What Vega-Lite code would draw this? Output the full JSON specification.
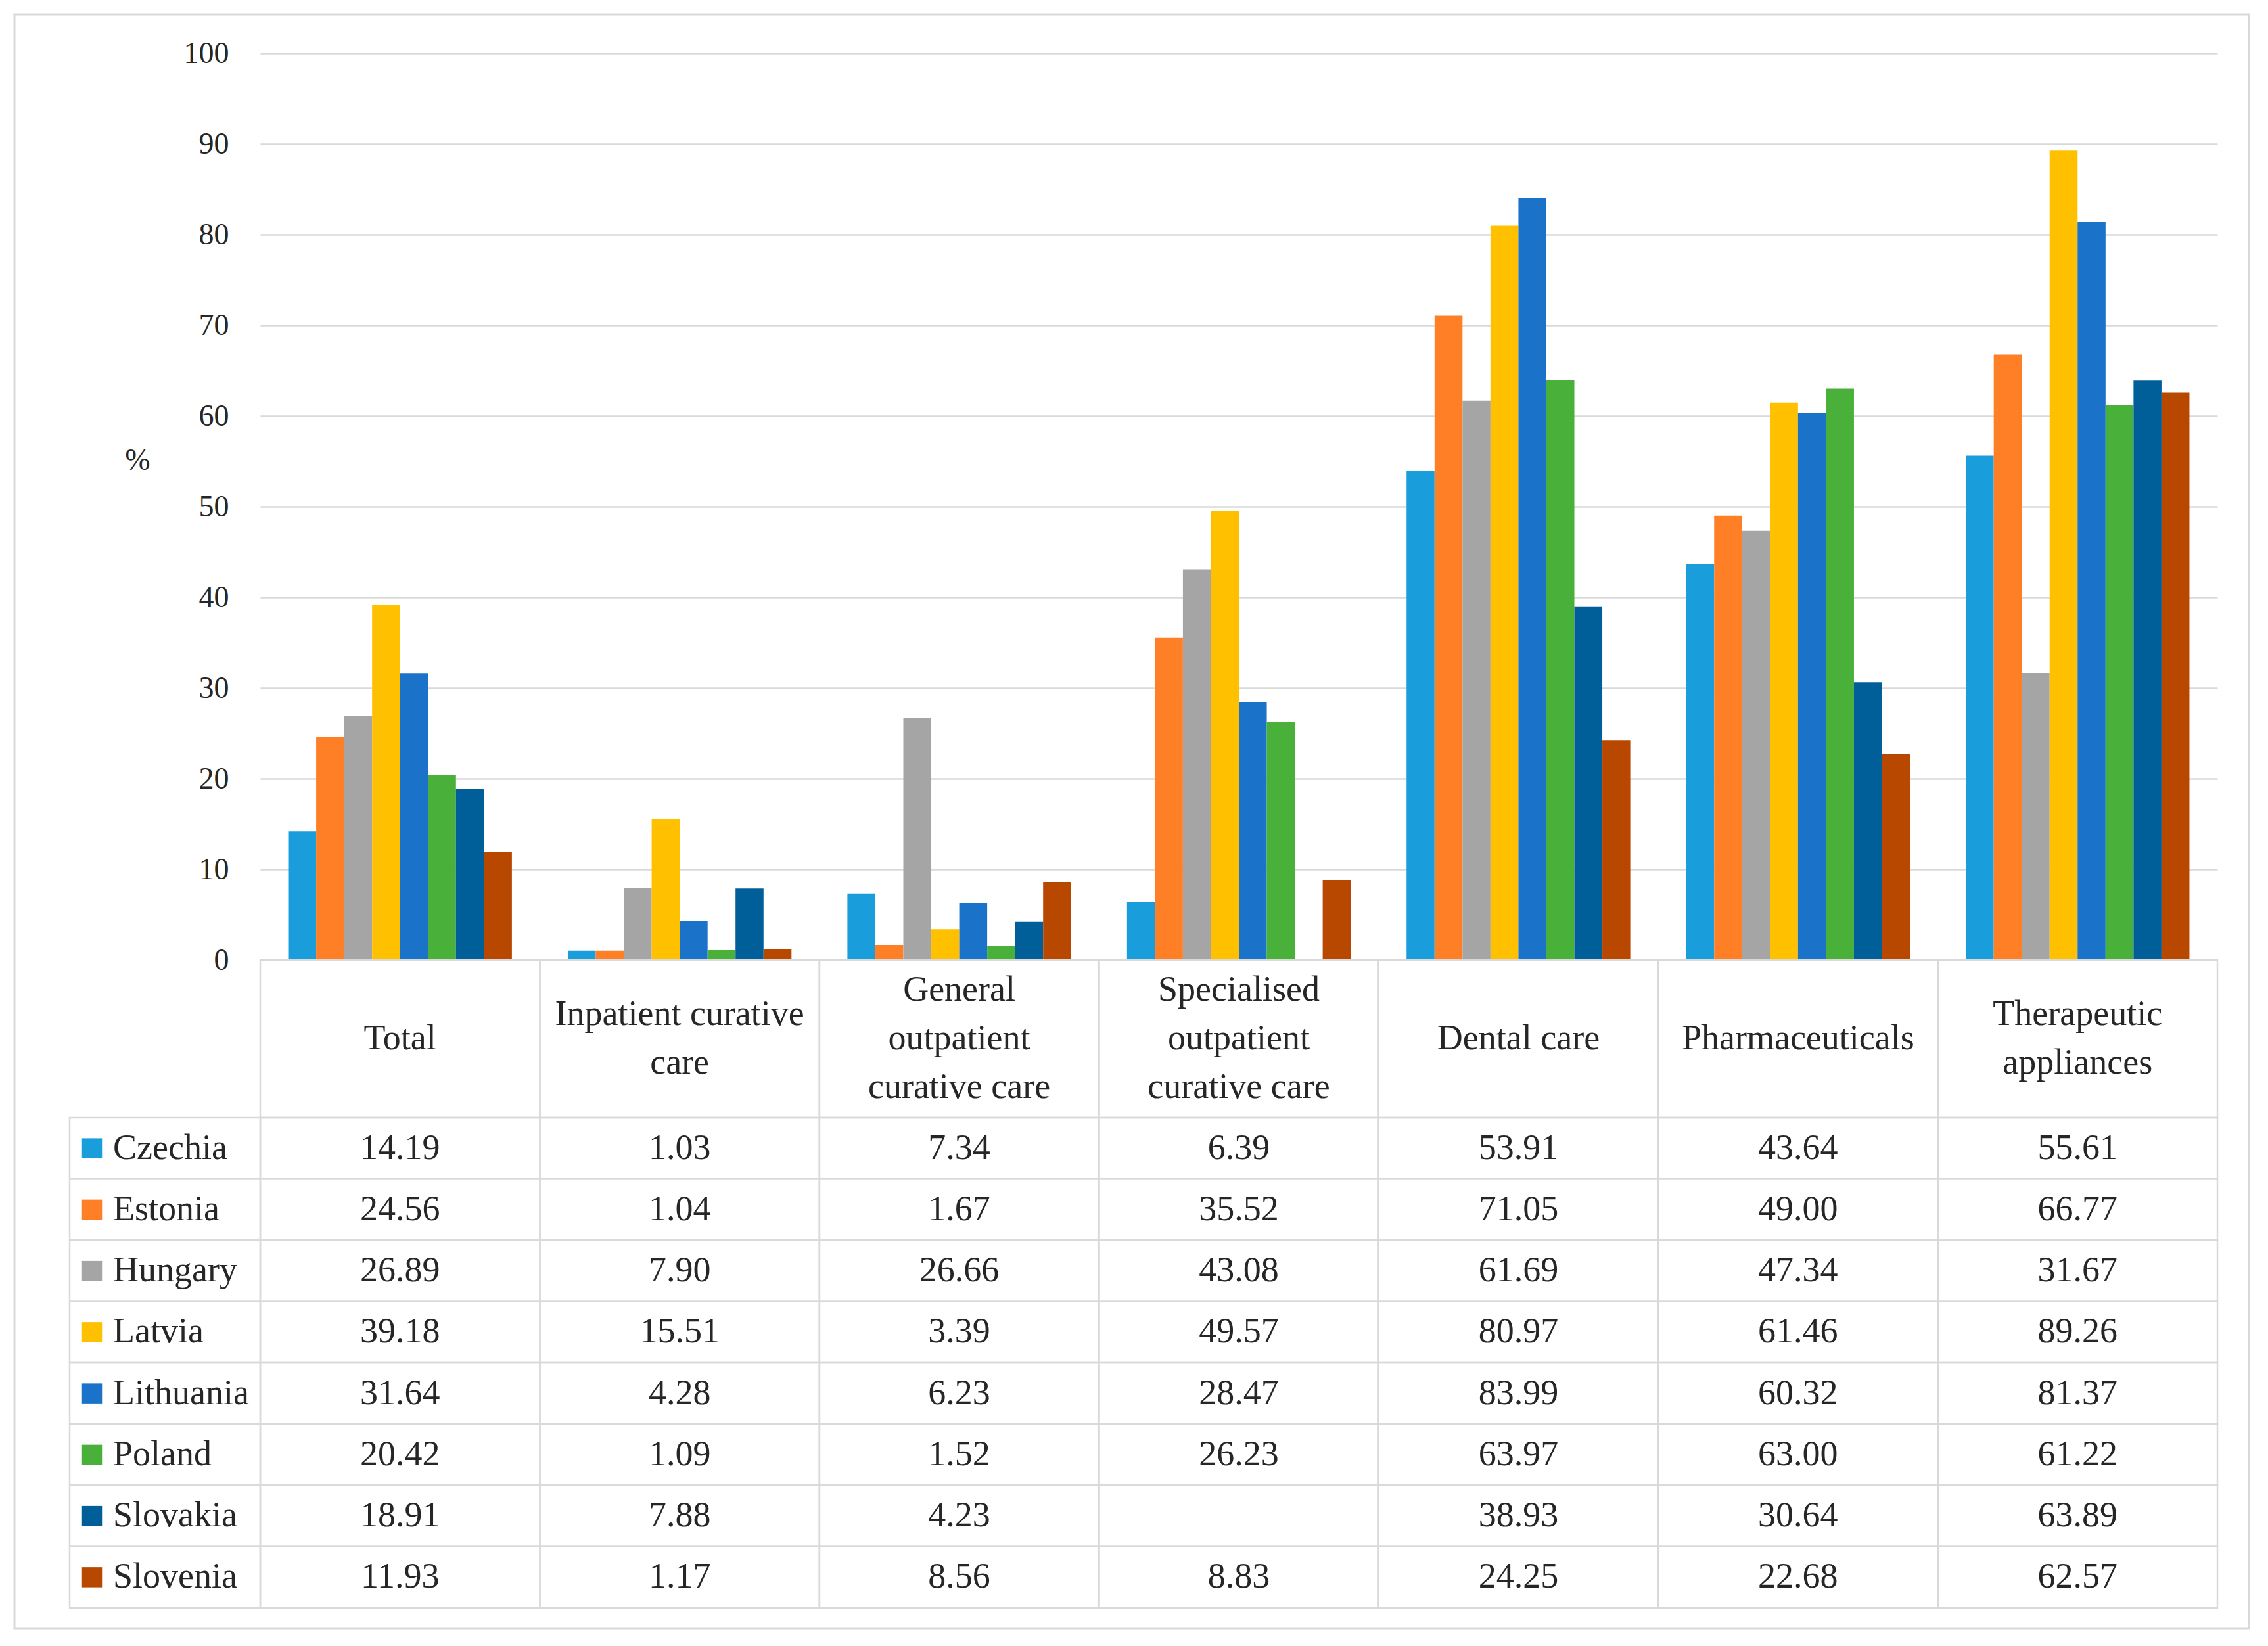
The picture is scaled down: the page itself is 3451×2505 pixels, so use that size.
{
  "$schema": "https://vega.github.io/schema/vega-lite/v6.json",
  "width": 2978,
  "height": 1380,
  "autosize": {"type": "none"},
  "padding": {"left": 396, "top": 81, "right": 77, "bottom": 1044},
  "background": "white",
  "config": {
    "view": {"stroke": null},
    "font": "Liberation Serif",
    "text": {"font": "Liberation Serif", "color": "#262626"}
  },
  "datasets": {
    "main": [
      {"country": "Czechia", "category": "Total", "value": 14.19},
      {"country": "Czechia", "category": "Inpatient curative care", "value": 1.03},
      {"country": "Czechia", "category": "General outpatient curative care", "value": 7.34},
      {"country": "Czechia", "category": "Specialised outpatient curative care", "value": 6.39},
      {"country": "Czechia", "category": "Dental care", "value": 53.91},
      {"country": "Czechia", "category": "Pharmaceuticals", "value": 43.64},
      {"country": "Czechia", "category": "Therapeutic appliances", "value": 55.61},
      {"country": "Estonia", "category": "Total", "value": 24.56},
      {"country": "Estonia", "category": "Inpatient curative care", "value": 1.04},
      {"country": "Estonia", "category": "General outpatient curative care", "value": 1.67},
      {"country": "Estonia", "category": "Specialised outpatient curative care", "value": 35.52},
      {"country": "Estonia", "category": "Dental care", "value": 71.05},
      {"country": "Estonia", "category": "Pharmaceuticals", "value": 49.00},
      {"country": "Estonia", "category": "Therapeutic appliances", "value": 66.77},
      {"country": "Hungary", "category": "Total", "value": 26.89},
      {"country": "Hungary", "category": "Inpatient curative care", "value": 7.90},
      {"country": "Hungary", "category": "General outpatient curative care", "value": 26.66},
      {"country": "Hungary", "category": "Specialised outpatient curative care", "value": 43.08},
      {"country": "Hungary", "category": "Dental care", "value": 61.69},
      {"country": "Hungary", "category": "Pharmaceuticals", "value": 47.34},
      {"country": "Hungary", "category": "Therapeutic appliances", "value": 31.67},
      {"country": "Latvia", "category": "Total", "value": 39.18},
      {"country": "Latvia", "category": "Inpatient curative care", "value": 15.51},
      {"country": "Latvia", "category": "General outpatient curative care", "value": 3.39},
      {"country": "Latvia", "category": "Specialised outpatient curative care", "value": 49.57},
      {"country": "Latvia", "category": "Dental care", "value": 80.97},
      {"country": "Latvia", "category": "Pharmaceuticals", "value": 61.46},
      {"country": "Latvia", "category": "Therapeutic appliances", "value": 89.26},
      {"country": "Lithuania", "category": "Total", "value": 31.64},
      {"country": "Lithuania", "category": "Inpatient curative care", "value": 4.28},
      {"country": "Lithuania", "category": "General outpatient curative care", "value": 6.23},
      {"country": "Lithuania", "category": "Specialised outpatient curative care", "value": 28.47},
      {"country": "Lithuania", "category": "Dental care", "value": 83.99},
      {"country": "Lithuania", "category": "Pharmaceuticals", "value": 60.32},
      {"country": "Lithuania", "category": "Therapeutic appliances", "value": 81.37},
      {"country": "Poland", "category": "Total", "value": 20.42},
      {"country": "Poland", "category": "Inpatient curative care", "value": 1.09},
      {"country": "Poland", "category": "General outpatient curative care", "value": 1.52},
      {"country": "Poland", "category": "Specialised outpatient curative care", "value": 26.23},
      {"country": "Poland", "category": "Dental care", "value": 63.97},
      {"country": "Poland", "category": "Pharmaceuticals", "value": 63.00},
      {"country": "Poland", "category": "Therapeutic appliances", "value": 61.22},
      {"country": "Slovakia", "category": "Total", "value": 18.91},
      {"country": "Slovakia", "category": "Inpatient curative care", "value": 7.88},
      {"country": "Slovakia", "category": "General outpatient curative care", "value": 4.23},
      {"country": "Slovakia", "category": "Specialised outpatient curative care", "value": null},
      {"country": "Slovakia", "category": "Dental care", "value": 38.93},
      {"country": "Slovakia", "category": "Pharmaceuticals", "value": 30.64},
      {"country": "Slovakia", "category": "Therapeutic appliances", "value": 63.89},
      {"country": "Slovenia", "category": "Total", "value": 11.93},
      {"country": "Slovenia", "category": "Inpatient curative care", "value": 1.17},
      {"country": "Slovenia", "category": "General outpatient curative care", "value": 8.56},
      {"country": "Slovenia", "category": "Specialised outpatient curative care", "value": 8.83},
      {"country": "Slovenia", "category": "Dental care", "value": 24.25},
      {"country": "Slovenia", "category": "Pharmaceuticals", "value": 22.68},
      {"country": "Slovenia", "category": "Therapeutic appliances", "value": 62.57}
    ],
    "headers": [
      {"category": "Total", "label": "Total"},
      {"category": "Inpatient curative care", "label": "Inpatient curative\ncare"},
      {"category": "General outpatient curative care", "label": "General\noutpatient\ncurative care"},
      {"category": "Specialised outpatient curative care", "label": "Specialised\noutpatient\ncurative care"},
      {"category": "Dental care", "label": "Dental care"},
      {"category": "Pharmaceuticals", "label": "Pharmaceuticals"},
      {"category": "Therapeutic appliances", "label": "Therapeutic\nappliances"}
    ]
  },
  "resolve": {"scale": {"x": "independent", "y": "independent", "color": "shared"}, "axis": {"x": "independent", "y": "independent"}},
  "layer": [
    {
      "data": {"name": "main"},
      "mark": {"type": "bar"},
      "encoding": {
        "x": {"field": "category", "type": "nominal", "axis": null,
              "scale": {"domain": ["Total", "Inpatient curative care", "General outpatient curative care", "Specialised outpatient curative care", "Dental care", "Pharmaceuticals", "Therapeutic appliances"], "paddingInner": 0, "paddingOuter": 0}},
        "xOffset": {"field": "country", "type": "nominal",
              "scale": {"domain": ["Czechia", "Estonia", "Hungary", "Latvia", "Lithuania", "Poland", "Slovakia", "Slovenia"], "paddingInner": 0, "paddingOuter": 1.07}},
        "y": {"field": "value", "type": "quantitative",
              "scale": {"domain": [0, 100], "nice": false, "zero": true},
              "axis": {"values": [0, 10, 20, 30, 40, 50, 60, 70, 80, 90, 100], "grid": true, "gridColor": "#d9d9d9", "gridWidth": 2.5,
                       "domain": false, "ticks": false, "tickSize": 0, "labelPadding": 48,
                       "labelFont": "Liberation Serif", "labelFontSize": 46, "labelColor": "#262626",
                       "title": "%", "titleAngle": 0, "titleFont": "Liberation Serif", "titleFontSize": 46, "titleFontWeight": "normal",
                       "titleColor": "#262626", "titleX": -187, "titleY": 619, "titleAlign": "center", "titleBaseline": "middle"}},
        "color": {"field": "country", "type": "nominal", "legend": null,
                  "scale": {"domain": ["Czechia", "Estonia", "Hungary", "Latvia", "Lithuania", "Poland", "Slovakia", "Slovenia"],
                            "range": ["#1a9ddb", "#ff7f27", "#a5a5a5", "#ffc000", "#1a72c9", "#49b03a", "#005f99", "#b84700"]}}
      }
    },
    {
      "data": {"name": "main"},
      "mark": {"type": "rect", "fill": "white", "fillOpacity": 0, "stroke": "#d9d9d9", "strokeWidth": 2.5},
      "encoding": {
        "x": {"field": "category", "type": "nominal", "axis": null,
              "scale": {"domain": ["Total", "Inpatient curative care", "General outpatient curative care", "Specialised outpatient curative care", "Dental care", "Pharmaceuticals", "Therapeutic appliances"], "paddingInner": 0, "paddingOuter": 0}},
        "y": {"field": "country", "type": "nominal", "axis": null,
              "scale": {"domain": ["Czechia", "Estonia", "Hungary", "Latvia", "Lithuania", "Poland", "Slovakia", "Slovenia"], "range": [1620, 2366], "paddingInner": 0, "paddingOuter": 0}}
      }
    },
    {
      "data": {"name": "main"},
      "transform": [{"filter": "isValid(datum.value)"}],
      "mark": {"type": "text", "fontSize": 54, "baseline": "middle", "align": "center"},
      "encoding": {
        "x": {"field": "category", "type": "nominal", "axis": null,
              "scale": {"domain": ["Total", "Inpatient curative care", "General outpatient curative care", "Specialised outpatient curative care", "Dental care", "Pharmaceuticals", "Therapeutic appliances"], "paddingInner": 0, "paddingOuter": 0}},
        "y": {"field": "country", "type": "nominal", "axis": null,
              "scale": {"domain": ["Czechia", "Estonia", "Hungary", "Latvia", "Lithuania", "Poland", "Slovakia", "Slovenia"], "range": [1620, 2366], "paddingInner": 0, "paddingOuter": 0}},
        "text": {"field": "value", "type": "quantitative", "format": ".2f"}
      }
    },
    {
      "data": {"name": "headers"},
      "mark": {"type": "rect", "fill": "white", "fillOpacity": 0, "stroke": "#d9d9d9", "strokeWidth": 2.5},
      "encoding": {
        "x": {"field": "category", "type": "nominal", "axis": null,
              "scale": {"domain": ["Total", "Inpatient curative care", "General outpatient curative care", "Specialised outpatient curative care", "Dental care", "Pharmaceuticals", "Therapeutic appliances"], "paddingInner": 0, "paddingOuter": 0}},
        "y": {"datum": "header", "type": "nominal", "axis": null,
              "scale": {"domain": ["header"], "range": [1380, 1620], "paddingInner": 0, "paddingOuter": 0}}
      }
    },
    {
      "data": {"name": "headers"},
      "transform": [{"filter": "split(datum.label, '\\n').length == 1"}],
      "mark": {"type": "text", "fontSize": 54, "baseline": "middle", "align": "center", "lineBreak": "\n", "lineHeight": 74},
      "encoding": {
        "x": {"field": "category", "type": "nominal", "axis": null,
              "scale": {"domain": ["Total", "Inpatient curative care", "General outpatient curative care", "Specialised outpatient curative care", "Dental care", "Pharmaceuticals", "Therapeutic appliances"], "paddingInner": 0, "paddingOuter": 0}},
        "y": {"datum": "header", "type": "nominal", "axis": null,
              "scale": {"domain": ["header"], "range": [1380, 1620], "paddingInner": 0, "paddingOuter": 0}},
        "text": {"field": "label", "type": "nominal"}
      }
    },
    {
      "data": {"name": "headers"},
      "transform": [{"filter": "split(datum.label, '\\n').length == 2"}],
      "mark": {"type": "text", "fontSize": 54, "baseline": "middle", "align": "center", "lineBreak": "\n", "lineHeight": 74, "dy": -37},
      "encoding": {
        "x": {"field": "category", "type": "nominal", "axis": null,
              "scale": {"domain": ["Total", "Inpatient curative care", "General outpatient curative care", "Specialised outpatient curative care", "Dental care", "Pharmaceuticals", "Therapeutic appliances"], "paddingInner": 0, "paddingOuter": 0}},
        "y": {"datum": "header", "type": "nominal", "axis": null,
              "scale": {"domain": ["header"], "range": [1380, 1620], "paddingInner": 0, "paddingOuter": 0}},
        "text": {"field": "label", "type": "nominal"}
      }
    },
    {
      "data": {"name": "headers"},
      "transform": [{"filter": "split(datum.label, '\\n').length == 3"}],
      "mark": {"type": "text", "fontSize": 54, "baseline": "middle", "align": "center", "lineBreak": "\n", "lineHeight": 74, "dy": -74},
      "encoding": {
        "x": {"field": "category", "type": "nominal", "axis": null,
              "scale": {"domain": ["Total", "Inpatient curative care", "General outpatient curative care", "Specialised outpatient curative care", "Dental care", "Pharmaceuticals", "Therapeutic appliances"], "paddingInner": 0, "paddingOuter": 0}},
        "y": {"datum": "header", "type": "nominal", "axis": null,
              "scale": {"domain": ["header"], "range": [1380, 1620], "paddingInner": 0, "paddingOuter": 0}},
        "text": {"field": "label", "type": "nominal"}
      }
    },
    {
      "data": {"name": "main"},
      "transform": [{"filter": "datum.category === 'Total'"}],
      "mark": {"type": "rect", "fill": "white", "fillOpacity": 0, "stroke": "#d9d9d9", "strokeWidth": 2.5},
      "encoding": {
        "x": {"datum": "legend", "type": "nominal", "axis": null,
              "scale": {"domain": ["legend"], "range": [-290, 0], "paddingInner": 0, "paddingOuter": 0}},
        "y": {"field": "country", "type": "nominal", "axis": null,
              "scale": {"domain": ["Czechia", "Estonia", "Hungary", "Latvia", "Lithuania", "Poland", "Slovakia", "Slovenia"], "range": [1620, 2366], "paddingInner": 0, "paddingOuter": 0}}
      }
    },
    {
      "data": {"name": "main"},
      "transform": [{"filter": "datum.category === 'Total'"}],
      "mark": {"type": "point", "shape": "square", "filled": true, "size": 930, "opacity": 1},
      "encoding": {
        "x": {"datum": "legend", "type": "nominal", "axis": null,
              "scale": {"domain": ["legend"], "range": [-290, -222], "paddingInner": 0, "paddingOuter": 0}},
        "y": {"field": "country", "type": "nominal", "axis": null,
              "scale": {"domain": ["Czechia", "Estonia", "Hungary", "Latvia", "Lithuania", "Poland", "Slovakia", "Slovenia"], "range": [1620, 2366], "paddingInner": 0, "paddingOuter": 0}},
        "color": {"field": "country", "type": "nominal", "legend": null}
      }
    },
    {
      "data": {"name": "main"},
      "transform": [{"filter": "datum.category === 'Total'"}],
      "mark": {"type": "text", "fontSize": 54, "baseline": "middle", "align": "left"},
      "encoding": {
        "x": {"datum": "legend", "type": "nominal", "axis": null,
              "scale": {"domain": ["legend"], "range": [-290, -158], "paddingInner": 0, "paddingOuter": 0}},
        "y": {"field": "country", "type": "nominal", "axis": null,
              "scale": {"domain": ["Czechia", "Estonia", "Hungary", "Latvia", "Lithuania", "Poland", "Slovakia", "Slovenia"], "range": [1620, 2366], "paddingInner": 0, "paddingOuter": 0}},
        "text": {"field": "country", "type": "nominal"}
      }
    },
    {
      "data": {"name": "main"},
      "transform": [{"filter": "datum.category === 'Total' && datum.country === 'Czechia'"}],
      "mark": {"type": "rect", "fill": "white", "fillOpacity": 0, "stroke": "#d9d9d9", "strokeWidth": 3},
      "encoding": {
        "x": {"datum": "frame", "type": "nominal", "axis": null,
              "scale": {"domain": ["frame"], "range": [-374, 3026], "paddingInner": 0, "paddingOuter": 0}},
        "y": {"datum": "frame", "type": "nominal", "axis": null,
              "scale": {"domain": ["frame"], "range": [-59, 2397], "paddingInner": 0, "paddingOuter": 0}}
      }
    }
  ]
}
